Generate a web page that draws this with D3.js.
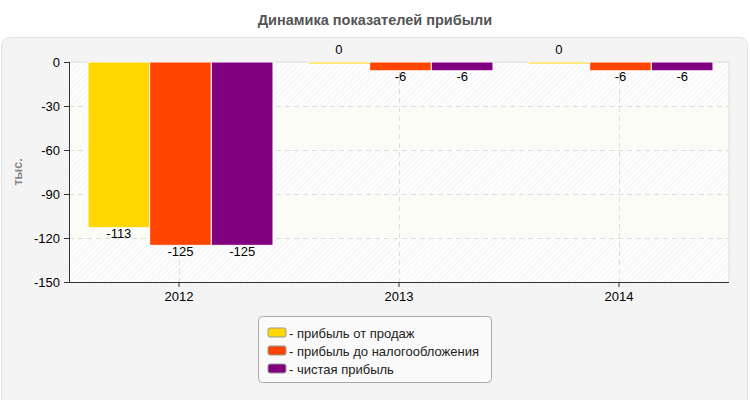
<!DOCTYPE html>
<html>
<head>
<meta charset="utf-8">
<script src="https://cdnjs.cloudflare.com/ajax/libs/d3/7.8.5/d3.min.js"></script>
<style>
  body { margin: 0; background: #fff; }
  svg text { font-family: Arial, "Liberation Sans", sans-serif; }
</style>
</head>
<body>
<svg id="chart" width="750" height="400"></svg>
<script>
var years = ["2012", "2013", "2014"];
var seriesNames = ["- прибыль от продаж", "- прибыль до налогообложения", "- чистая прибыль"];
var seriesColors = ["#ffd700", "#ff4500", "#800080"];
var salesProfit = [-113, 0, 0];
var preTaxProfit = [-125, -6, -6];
var netProfit = [-125, -6, -6];
var yTicks = [0, -30, -60, -90, -120, -150];

var margin = {top: 62, left: 69, right: 21, bottom: 118};
var width = 750 - margin.left - margin.right;
var height = 400 - margin.top - margin.bottom;

var svg = d3.select("#chart");

var defs = svg.append("defs");
var pat = defs.append("pattern")
	.attr("id", "hatch")
	.attr("patternUnits", "userSpaceOnUse")
	.attr("width", 4).attr("height", 4)
	.attr("patternTransform", "rotate(45)");
pat.append("rect").attr("width", 4).attr("height", 4).attr("fill", "#fdfdfd");
pat.append("line").attr("x1", 0).attr("y1", 0).attr("x2", 0).attr("y2", 4)
	.attr("stroke", "#ececec").attr("stroke-width", 1);

/*panel*/
svg.append("rect")
	.attr("x", 1.5).attr("y", 37.5).attr("width", 746).attr("height", 370)
	.attr("rx", 8).attr("fill", "#f4f4f4").attr("stroke", "#e2e2e2");

svg.append("text")
	.attr("x", 375).attr("y", 25)
	.attr("text-anchor", "middle")
	.attr("font-size", 14.5).attr("font-weight", "bold").attr("fill", "#555")
	.text("Динамика показателей прибыли");

var data = years.map(function(y, i) {
	return {year: y, values: [salesProfit[i], preTaxProfit[i], netProfit[i]]};
});

var x0 = d3.scaleBand().domain(years).range([0, width]).paddingInner(0).paddingOuter(0);
var x1 = d3.scaleBand().domain([0, 1, 2]).range([19, x0.bandwidth() - 16]);
var yScale = d3.scaleLinear().domain([-150, 0]).range([height, 0]);

var g = svg.append("g").attr("transform", "translate(" + margin.left + "," + margin.top + ")");

/*background bands*/
for (var i = 0; i < yTicks.length - 1; i++) {
	g.append("rect")
		.attr("x", 0).attr("width", width)
		.attr("y", yScale(yTicks[i]))
		.attr("height", yScale(yTicks[i + 1]) - yScale(yTicks[i]))
		.attr("fill", i % 2 === 0 ? "url(#hatch)" : "#fcfcf6");
}
g.append("line").attr("x1", width).attr("x2", width).attr("y1", 0).attr("y2", height)
	.attr("stroke", "#ddd");
g.append("line").attr("x1", 0).attr("x2", width).attr("y1", 0).attr("y2", 0)
	.attr("stroke", "#ddd");

/*grid*/
g.selectAll(".hgrid").data(yTicks.slice(1, -1)).enter().append("line")
	.attr("x1", 0).attr("x2", width)
	.attr("y1", function(d) { return yScale(d) + 0.5; })
	.attr("y2", function(d) { return yScale(d) + 0.5; })
	.attr("stroke", "#ddd").attr("stroke-dasharray", "5,4");
g.selectAll(".vgrid").data(years).enter().append("line")
	.attr("x1", function(d) { return x0(d) + x0.bandwidth() / 2 + 0.5; })
	.attr("x2", function(d) { return x0(d) + x0.bandwidth() / 2 + 0.5; })
	.attr("y1", 0).attr("y2", height)
	.attr("stroke", "#ddd").attr("stroke-dasharray", "5,4");

/*bars*/
var groups = g.selectAll(".grp").data(data).enter().append("g")
	.attr("transform", function(d) { return "translate(" + x0(d.year) + ",0)"; });

groups.selectAll("rect").data(function(d) { return d.values; }).enter().append("rect")
	.attr("x", function(d, i) { return x1(i); })
	.attr("width", x1.bandwidth())
	.attr("y", yScale(0))
	.attr("height", function(d) { return Math.max(2, yScale(d) - yScale(0)); })
	.attr("fill", function(d, i) { return seriesColors[i]; })
	.attr("stroke", "#fff").attr("stroke-width", 1);

groups.selectAll(".lbl").data(function(d) { return d.values; }).enter().append("text")
	.attr("x", function(d, i) { return x1(i) + x1.bandwidth() / 2; })
	.attr("y", function(d) { return d < 0 ? yScale(d) + 10.5 : yScale(0) - 8; })
	.attr("text-anchor", "middle")
	.attr("font-size", 13).attr("fill", "#000")
	.text(function(d) { return String(d); });

/*axes*/
var yAxis = d3.axisLeft(yScale).tickValues(yTicks).tickSize(5).tickPadding(4)
	.tickFormat(function(d) { return String(d); });
var yG = g.append("g").call(yAxis);
yG.select(".domain").attr("stroke", "#333").attr("d", "M0.5,0V" + height);
yG.selectAll(".tick line").attr("stroke", "#333");
yG.selectAll("text").attr("font-size", 13).attr("fill", "#000")
	.attr("font-family", "Arial, 'Liberation Sans', sans-serif");

var xAxis = d3.axisBottom(x0).tickSize(5).tickPadding(5);
var xG = g.append("g").attr("transform", "translate(0," + height + ")").call(xAxis);
xG.select(".domain").attr("stroke", "#333").attr("d", "M0,0.5H" + width);
xG.selectAll(".tick line").attr("stroke", "#333");
xG.selectAll("text").attr("font-size", 13).attr("fill", "#000")
	.attr("font-family", "Arial, 'Liberation Sans', sans-serif");

svg.append("text")
	.attr("transform", "translate(22,172) rotate(-90)")
	.attr("text-anchor", "middle")
	.attr("font-size", 12.5).attr("font-weight", "bold").attr("fill", "#888")
	.text("тыс.");

/*legend*/
var leg = svg.append("g").attr("transform", "translate(258,316)");
leg.append("rect").attr("x", 0.5).attr("y", 0.5).attr("width", 233).attr("height", 66)
	.attr("rx", 4).attr("fill", "#fafafa").attr("stroke", "#aaa");
var items = leg.selectAll(".item").data(seriesNames).enter().append("g")
	.attr("transform", function(d, i) { return "translate(10," + (12 + i * 18) + ")"; });
items.append("rect").attr("width", 18).attr("height", 9).attr("rx", 2)
	.attr("fill", function(d, i) { return seriesColors[i]; })
	.attr("stroke", "#999");
items.append("text").attr("x", 21).attr("y", 9.5)
	.attr("font-size", 13).attr("fill", "#222")
	.text(function(d) { return d; });
</script>
</body>
</html>
